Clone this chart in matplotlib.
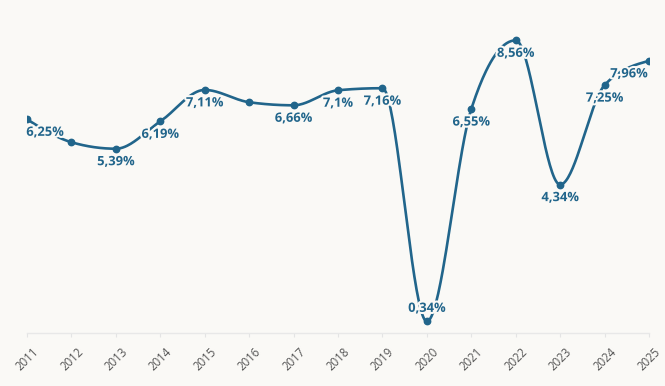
import numpy as np
import matplotlib.pyplot as plt
import matplotlib.patheffects as pe
import matplotlib.transforms as mtransforms

# data
years = [2011, 2012, 2013, 2014, 2015, 2016, 2017, 2018, 2019, 2020, 2021, 2022, 2023, 2024, 2025]
values = [6.25, 5.58, 5.39, 6.19, 7.11, 6.75, 6.66, 7.10, 7.16, 0.34, 6.55, 8.56, 4.34, 7.25, 7.96]
labels = ["6,25%", None, "5,39%", "6,19%", "7,11%", None, "6,66%", "7,1%", "7,16%",
          "0,34%", "6,55%", "8,56%", "4,34%", "7,25%", "7,96%"]

line_color = "#21658b"
bg = "#faf9f6"


def monotone_tangents(x, y):
    # same tangents as d3.curveMonotoneX
    x = np.asarray(x, float)
    y = np.asarray(y, float)
    h = np.diff(x)
    s = np.diff(y) / h
    t = np.zeros_like(y)
    for i in range(1, len(y) - 1):
        h0, h1 = h[i - 1], h[i]
        s0, s1 = s[i - 1], s[i]
        p = (s0 * h1 + s1 * h0) / (h0 + h1)
        t[i] = (np.sign(s0) + np.sign(s1)) * min(abs(s0), abs(s1), 0.5 * abs(p))
    t[0] = (3 * s[0] - t[1]) / 2
    t[-1] = (3 * s[-1] - t[-2]) / 2
    return t


def smooth(x, y, n=40):
    x = np.asarray(x, float)
    y = np.asarray(y, float)
    t = monotone_tangents(x, y)
    xs, ys = [], []
    for i in range(len(x) - 1):
        h = x[i + 1] - x[i]
        u = np.linspace(0, 1, n)
        h00 = 2 * u**3 - 3 * u**2 + 1
        h10 = u**3 - 2 * u**2 + u
        h01 = -2 * u**3 + 3 * u**2
        h11 = u**3 - u**2
        xs.append(x[i] + u * h)
        ys.append(h00 * y[i] + h10 * h * t[i] + h01 * y[i + 1] + h11 * h * t[i + 1])
    return np.concatenate(xs), np.concatenate(ys)


fig = plt.figure(figsize=(6.65, 3.86), dpi=100, facecolor=bg)
ax = fig.add_axes([27 / 665, 53 / 386, 622 / 665, 333 / 386])
ax.set_facecolor(bg)

sx, sy = smooth(years, values)
ax.plot(sx, sy, color=line_color, lw=1.9, solid_capstyle="round", zorder=2)
ax.plot(years, values, "o", color=line_color, ms=4.6, zorder=3)

for i, (yr, v, lab) in enumerate(zip(years, values, labels)):
    if lab is None:
        continue
    dx, dy = 0, -13
    if yr == 2011:
        dx = 18
    if yr == 2025:
        dx = -20
    if v < 1:
        dy = 13
    ax.annotate(lab, (yr, v), xytext=(dx * 0.72, dy * 0.72), textcoords="offset points",
                ha="center", va="center", fontsize=9.3, fontweight="bold",
                family="Open Sans", color=line_color, zorder=4,
                path_effects=[pe.withStroke(linewidth=3, foreground=bg)])

ax.set_xlim(2011, 2025)
ax.set_ylim(0, 9.74)
ax.set_xticks(years)
ax.set_xticklabels([str(y) for y in years], rotation=45, ha="right", va="top",
                   rotation_mode="anchor", fontsize=8.3, family="Open Sans", color="#555555")
ax.tick_params(axis="x", length=3, color="#e4e4e4", pad=6)
shift = mtransforms.ScaledTranslation(5 / 100, 0, fig.dpi_scale_trans)
for t in ax.get_xticklabels():
    t.set_transform(t.get_transform() + shift)
ax.set_yticks([])
for side in ["top", "right", "left"]:
    ax.spines[side].set_visible(False)
ax.spines["bottom"].set_color("#e8e8e8")
ax.spines["bottom"].set_linewidth(1)

fig.savefig("out.png", dpi=100, facecolor=bg)
